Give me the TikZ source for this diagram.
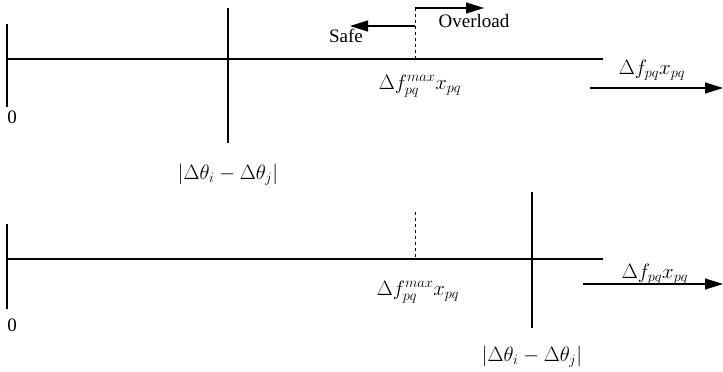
\documentclass[tikz,border=0pt]{standalone}
\usepackage{fontspec}
\setmainfont{Liberation Serif}
\usetikzlibrary{arrows.meta}
\begin{document}
\begin{tikzpicture}[x=1pt, y=-1pt, line width=1.3pt,
    >={Triangle[length=18pt,width=11pt]},
    lbl/.style={font=\fontsize{19}{22}\selectfont, inner sep=1pt},
    mlbl/.style={font=\fontsize{21}{24}\selectfont, inner sep=1pt}]
    \useasboundingbox (0,0) rectangle (723,372);
    % upper case: |dtheta| below the limit
    \coordinate (zeroA) at (7,59);
    \coordinate (endA) at (603,59);
    \coordinate (maxA) at (415,59);
    \coordinate (thA) at (228,59);
    \draw (zeroA) -- (endA);
    \draw (7,24) -- (7,107);
    \draw (228,8) -- (228,143);
    \draw[dashed, line width=0.9pt] (415,8) coordinate (split) -- (maxA);
    \coordinate (safeTip) at (350,26);
    \coordinate (overTip) at (484,8);
    \draw[->] (split |- safeTip) -- (safeTip);
    \draw[->] (split) -- (overTip);
    \node[lbl] (safe) at (346,36) {Safe};
    \node[lbl] (over) at (474,21) {Overload};
    \node[lbl] (zA) at (12,117) {0};
    \node[mlbl] (thetaA) at (228,175) {$|\Delta\theta_i-\Delta\theta_j|$};
    \node[mlbl] (fmaxA) at (420,86) {$\Delta f^{max}_{pq}x_{pq}$};
    \node[mlbl] (flowA) at (652,70) {$\Delta f_{pq}x_{pq}$};
    \coordinate (arrA) at (590,88);
    \coordinate (arrAend) at (723,88);
    \draw[->] (arrA) -- (arrAend);
    % lower case: |dtheta| beyond the limit
    \coordinate (zeroB) at (7,259);
    \coordinate (endB) at (603,259);
    \coordinate (maxB) at (415,259);
    \draw (zeroB) -- (endB);
    \draw (7,224) -- (7,309);
    \draw (532,192) -- (532,328);
    \draw[dashed, line width=0.9pt] (415,212) -- (maxB);
    \node[lbl] (zB) at (12,325) {0};
    \node[mlbl] (thetaB) at (532,357) {$|\Delta\theta_i-\Delta\theta_j|$};
    \node[mlbl] (fmaxB) at (418,292) {$\Delta f^{max}_{pq}x_{pq}$};
    \node[mlbl] (flowB) at (655,274) {$\Delta f_{pq}x_{pq}$};
    \coordinate (arrB) at (583,284);
    \coordinate (arrBend) at (723,284);
    \draw[->] (arrB) -- (arrBend);
\end{tikzpicture}
\end{document}
